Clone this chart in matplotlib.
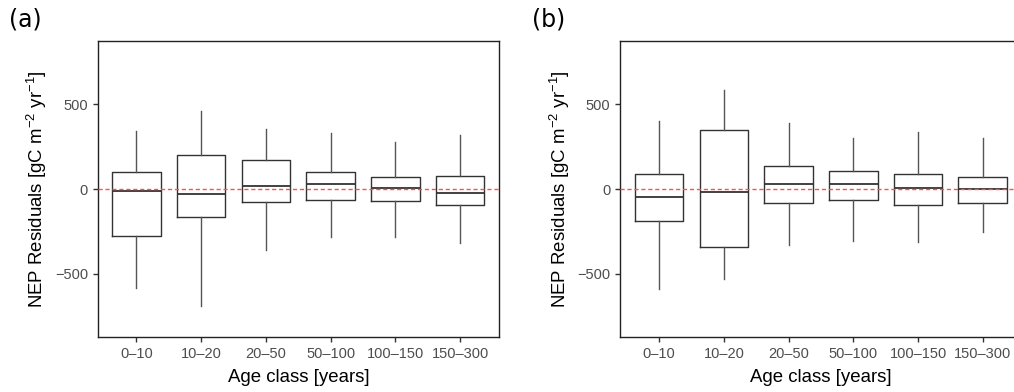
import matplotlib
matplotlib.use("Agg")
import matplotlib.pyplot as plt

plt.rcParams["font.family"] = ["Liberation Sans", "DejaVu Sans"]
plt.rcParams["mathtext.fontset"] = "custom"
plt.rcParams["mathtext.rm"] = "Liberation Sans"
plt.rcParams["mathtext.it"] = "Liberation Sans:italic"

age_classes = ["0\u201310", "10\u201320", "20\u201350", "50\u2013100", "100\u2013150", "150\u2013300"]

# panel (a): whisker low, Q1, median, Q3, whisker high
a_low = [-586, -691, -358, -285, -281, -321]
a_q1 = [-279, -167, -77, -63, -73, -96]
a_med = [-12, -31, 16, 30, 6, -22]
a_q3 = [102, 203, 173, 98, 73, 75]
a_high = [344, 460, 354, 329, 276, 319]

# panel (b)
b_low = [-594, -535, -334, -309, -311, -254]
b_q1 = [-189, -342, -83, -63, -94, -85]
b_med = [-45, -20, 28, 28, 4, 0]
b_q3 = [89, 350, 138, 108, 89, 71]
b_high = [400, 588, 388, 299, 336, 303]

yticks = [-500, 0, 500]


def make_stats(low, q1, med, q3, high):
    return [dict(whislo=lo, q1=a, med=m, q3=b, whishi=hi, fliers=[])
            for lo, a, m, b, hi in zip(low, q1, med, q3, high)]


def draw_panel(ax, stats, tag):
    box = dict(color="#333333", linewidth=1.0)
    whisk = dict(color="#555555", linewidth=1.0)
    ax.bxp(stats, positions=range(1, 7), widths=0.75, showcaps=False,
           showfliers=False, boxprops=box, whiskerprops=whisk,
           medianprops=dict(color="#333333", linewidth=1.3))
    ax.axhline(0, color="#ff5050", linestyle=(0, (3, 2)), linewidth=1.0, zorder=3)
    ax.set_xlim(0.4, 6.6)
    ax.set_ylim(-875, 875)
    ax.set_yticks(yticks)
    ax.set_yticklabels([str(t).replace("-", "\u2212") for t in yticks])
    ax.set_xticks(range(1, 7))
    ax.set_xticklabels(age_classes)
    ax.tick_params(colors="#333333", labelcolor="#4d4d4d", labelsize=10.5,
                   length=3.5, width=1.0)
    for s in ax.spines.values():
        s.set_color("#222222")
        s.set_linewidth(1.0)
    ax.set_xlabel("Age class [years]", fontsize=13.4, labelpad=6)
    ax.set_ylabel(r"NEP Residuals [gC m$^{-2}$ yr$^{-1}$]", fontsize=13.4, labelpad=4)
    ax.text(-0.221, 1.071, tag, transform=ax.transAxes, fontsize=17,
            family="DejaVu Sans", va="center", ha="left")


fig = plt.figure(figsize=(10.14, 3.92), dpi=100)
ax1 = fig.add_axes([0.0963, 0.1403, 0.3958, 0.7551])
ax2 = fig.add_axes([0.6117, 0.1403, 0.3958, 0.7551])
draw_panel(ax1, make_stats(a_low, a_q1, a_med, a_q3, a_high), "(a)")
draw_panel(ax2, make_stats(b_low, b_q1, b_med, b_q3, b_high), "(b)")

fig.savefig("out.png", dpi=100)
